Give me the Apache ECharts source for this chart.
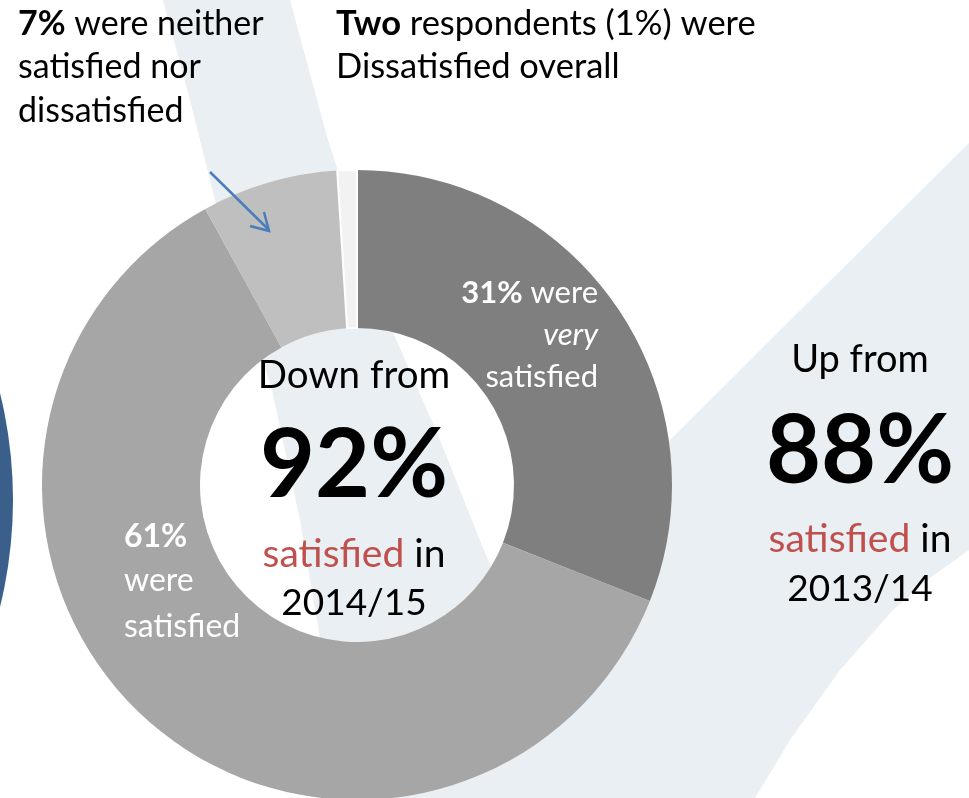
<!DOCTYPE html>
<html>
<head>
<meta charset="utf-8">
<script src="https://cdn.jsdelivr.net/npm/echarts@6/dist/echarts.min.js"></script>
<style>
  html, body { margin: 0; padding: 0; background: #ffffff; }
  #chart { width: 969px; height: 798px; }
</style>
</head>
<body>
<div id="chart"></div>
<script>
// Overall satisfaction, 2014/15 survey
const categories = ['Very satisfied', 'Satisfied', 'Neither satisfied nor dissatisfied', 'Dissatisfied'];
const shares = [31, 61, 7, 1];                 // per cent of respondents
const dissatisfiedCountWord = 'Two';
const previousSatisfied = 88;                  // per cent satisfied, previous year
const periods = ['2014/15', '2013/14'];        // current, previous

const sliceColors = ['#7f7f7f', '#a6a6a6', '#bfbfbf', '#f2f2f2'];
const currentSatisfied = 92;                   // headline figure (very satisfied + satisfied)

const FONT = 'Lato, "Noto Sans", sans-serif';
const BAND = '#e9eff2';
const RED = '#c0504d';

const chart = echarts.init(document.getElementById('chart'), null, { renderer: 'canvas' });

// one text line placed by its baseline
function line(x, baseline, text, size, extra) {
  const s = Object.assign({
    x: x,
    y: baseline - 0.32 * size,
    text: text,
    fontFamily: FONT,
    fontSize: size,
    fill: '#000',
    align: 'left',
    verticalAlign: 'middle'
  }, extra || {});
  if (s.rich) {
    Object.keys(s.rich).forEach(k => {
      s.rich[k] = Object.assign({ fontFamily: FONT, fontSize: size, fill: s.fill }, s.rich[k]);
    });
  }
  return { type: 'text', z: 10, silent: true, style: s };
}

const pieData = categories.map((name, i) => ({
  name: name,
  value: shares[i],
  itemStyle: i === 3
    ? { color: sliceColors[i], borderColor: '#ffffff', borderWidth: 2 }
    : { color: sliceColors[i], borderWidth: 0 }
}));

const graphics = [
  // decorative backdrop
  { type: 'circle', z: 0, silent: true, shape: { cx: -434, cy: 500, r: 447 }, style: { fill: '#3a5f8b' } },
  {
    type: 'polygon', z: 0, silent: true,
    shape: {
      points: [
        [163, 0], [190, 100], [215, 200], [245, 300], [272, 390], [300, 520], [322, 650], [345, 798],
        [755, 798], [790, 740], [840, 670], [893, 610], [930, 578], [969, 550], [969, 143], [710, 400], [507, 603],
        [485, 553], [440, 440], [392, 330], [360, 240], [328, 140], [290, 0]
      ]
    },
    style: { fill: BAND }
  },
  // pointer to the "neither" slice
  { type: 'line', z: 10, silent: true, shape: { x1: 210, y1: 172, x2: 269, y2: 230 }, style: { stroke: '#4a7ebb', lineWidth: 2.5 } },
  { type: 'polyline', z: 10, silent: true, shape: { points: [[250, 226], [269, 231], [264, 212]] }, style: { stroke: '#4a7ebb', lineWidth: 2.5, fill: null } },

  // top-left note
  line(18, 35, '{b|' + shares[2] + '%} were neither', 34, { rich: { b: { fontWeight: 'bold' } } }),
  line(18, 78, 'satisfied nor', 34),
  line(18, 122, 'dissatisfied', 34),

  // top-middle note
  line(336, 35, '{b|' + dissatisfiedCountWord + '} respondents (' + shares[3] + '%) were', 34.5, { rich: { b: { fontWeight: 'bold' } } }),
  line(336, 78, 'Dissatisfied overall', 34.5),

  // very satisfied label
  line(598, 303, '{b|' + shares[0] + '%} were', 31, { align: 'right', fill: '#fff', rich: { b: { fontWeight: 'bold' } } }),
  line(598, 345, 'very', 31, { align: 'right', fill: '#fff', fontStyle: 'italic' }),
  line(598, 387, 'satisfied', 31, { align: 'right', fill: '#fff' }),

  // satisfied label
  line(124, 547, shares[1] + '%', 32, { fill: '#fff', fontWeight: 'bold' }),
  line(124, 591, 'were', 32, { fill: '#fff' }),
  line(124, 637, 'satisfied', 32, { fill: '#fff' }),

  // centre of the ring
  line(354, 388, 'Down from', 38.5, { align: 'center' }),
  line(354, 497, currentSatisfied + '%', 95, { align: 'center', fontWeight: 'bold' }),
  line(354, 567, '{r|satisfied} in', 39, { align: 'center', rich: { r: { fill: RED } } }),
  line(354, 615, periods[0], 37, { align: 'center' }),

  // previous year
  line(860, 372, 'Up from', 38, { align: 'center' }),
  line(860, 483, previousSatisfied + '%', 95, { align: 'center', fontWeight: 'bold' }),
  line(860, 552, '{r|satisfied} in', 39, { align: 'center', rich: { r: { fill: RED } } }),
  line(860, 601, periods[1], 37, { align: 'center' })
];

chart.setOption({
  animation: false,
  backgroundColor: '#ffffff',
  graphic: graphics,
  series: [{
    type: 'pie',
    z: 2,
    silent: true,
    center: [357, 485],
    radius: [157, 315],
    startAngle: 90,
    clockwise: true,
    avoidLabelOverlap: false,
    label: { show: false },
    labelLine: { show: false },
    emphasis: { disabled: true },
    data: pieData
  }]
});
</script>
</body>
</html>
